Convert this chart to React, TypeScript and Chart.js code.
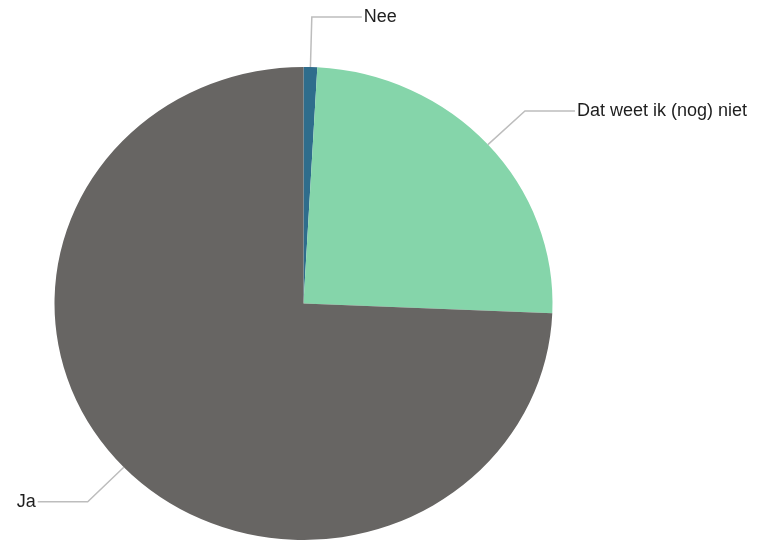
import React, { useEffect, useRef } from "react";
import { Chart, registerables } from "chart.js";

Chart.register(...registerables);

const categories = ["Nee", "Dat weet ik (nog) niet", "Ja"];
const values = [1, 28, 84];
const colors = ["#2f6d8c", "#85d5aa", "#676563"];

const SX = 249 / 236.5;
const LEADER = 50;
const ARM = 50;

const ellipsePlugin = {
  id: "ellipseLabels",
  beforeDatasetsDraw(chart: any) {
    const meta = chart.getDatasetMeta(0);
    const a = meta.data[0];
    if (!a) return;
    const ctx = chart.ctx;
    ctx.save();
    ctx.translate(a.x, a.y);
    ctx.scale(SX, 1);
    ctx.translate(-a.x, -a.y);
  },
  afterDatasetsDraw(chart: any) {
    const ctx = chart.ctx;
    ctx.restore();
    const meta = chart.getDatasetMeta(0);
    const labels = chart.data.labels as string[];
    meta.data.forEach((arc: any, i: number) => {
      const mid = (arc.startAngle + arc.endAngle) / 2;
      const R = arc.outerRadius;
      const c = Math.cos(mid);
      const s = Math.sin(mid);
      const ex = arc.x + SX * R * c;
      const ey = arc.y + R * s;
      const bx = ex + c * LEADER;
      const by = ey + s * LEADER;
      const right = c >= 0;
      const hx = right ? bx + ARM : bx - ARM;
      ctx.save();
      ctx.strokeStyle = "#bdbdbd";
      ctx.lineWidth = 1.5;
      ctx.beginPath();
      ctx.moveTo(ex, ey);
      ctx.lineTo(bx, by);
      ctx.lineTo(hx, by);
      ctx.stroke();
      ctx.fillStyle = "#1e1e1e";
      ctx.font = "18px 'Liberation Sans', Arial, sans-serif";
      ctx.textBaseline = "middle";
      ctx.textAlign = right ? "left" : "right";
      ctx.fillText(labels[i], right ? hx + 2 : hx - 2, by);
      ctx.restore();
    });
  },
};

export default function App() {
  const ref = useRef<HTMLCanvasElement | null>(null);
  useEffect(() => {
    document.body.style.margin = "0";
    const canvas = ref.current!;
    const chart = new Chart(canvas, {
      type: "pie",
      data: {
        labels: categories,
        datasets: [
          {
            data: values,
            backgroundColor: colors,
            borderWidth: 0,
          },
        ],
      },
      options: {
        responsive: false,
        animation: false,
        layout: { padding: { left: 67, right: 220, top: 67, bottom: 0 } },
        plugins: {
          legend: { display: false },
          tooltip: { enabled: false },
        },
      },
      plugins: [ellipsePlugin],
    });
    return () => chart.destroy();
  }, []);
  return (
    <div style={{ width: 760, height: 540, background: "#fff" }}>
      <canvas ref={ref} width={760} height={540} style={{ display: "block", width: 760, height: 540 }} />
    </div>
  );
}
